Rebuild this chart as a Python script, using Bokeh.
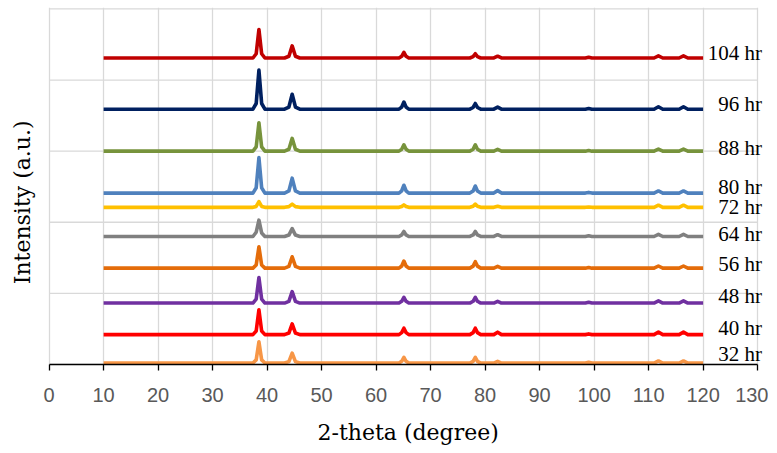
import math
from bokeh.plotting import figure
from bokeh.models import ColumnDataSource, LabelSet, Label, FixedTicker, Range1d, Title
from bokeh.embed import file_html
from bokeh.resources import INLINE

# ---- data ----
series_names = ["32 hr", "40 hr", "48 hr", "56 hr", "64 hr", "72 hr", "80 hr", "88 hr", "96 hr", "104 hr"]
series_colors = ["#F79646", "#FF0000", "#7030A0", "#E46C0A", "#808080",
                 "#FFC000", "#4F81BD", "#77933C", "#002060", "#C00000"]
offsets = [0.02, 0.42, 0.864, 1.355, 1.80, 2.21, 2.41, 3.0, 3.59, 4.31]
label_y = [0.145, 0.51, 0.97, 1.41, 1.84, 2.21, 2.49, 3.05, 3.665, 4.38]

two_theta = [10, 37.4, 38.0, 38.5, 39.0, 39.6, 43.2, 44.0, 44.6, 45.2, 46.0,
             64.2, 64.7, 65.1, 65.5, 66.0, 77.2, 77.8, 78.2, 78.6, 79.2,
             81.6, 82.3, 83.0, 98.4, 99.0, 99.6, 111.0, 111.8, 112.6,
             115.6, 116.4, 117.2, 120]

i_32 = [0, 0, 0.045, 0.30, 0.045, 0, 0, 0.02, 0.14, 0.02, 0, 0, 0.025, 0.08, 0.025, 0, 0, 0.025, 0.08, 0.025, 0, 0, 0.025, 0, 0, 0.01, 0, 0, 0.03, 0, 0, 0.03, 0, 0]
i_40 = [0, 0, 0.05, 0.35, 0.05, 0, 0, 0.022, 0.15, 0.022, 0, 0, 0.028, 0.09, 0.028, 0, 0, 0.028, 0.09, 0.028, 0, 0, 0.035, 0, 0, 0.01, 0, 0, 0.035, 0, 0, 0.035, 0, 0]
i_48 = [0, 0, 0.055, 0.36, 0.055, 0, 0, 0.024, 0.16, 0.024, 0, 0, 0.025, 0.08, 0.025, 0, 0, 0.025, 0.08, 0.025, 0, 0, 0.025, 0, 0, 0.01, 0, 0, 0.03, 0, 0, 0.03, 0, 0]
i_56 = [0, 0, 0.045, 0.30, 0.045, 0, 0, 0.024, 0.16, 0.024, 0, 0, 0.03, 0.10, 0.03, 0, 0, 0.028, 0.09, 0.028, 0, 0, 0.025, 0, 0, 0.01, 0, 0, 0.03, 0, 0, 0.03, 0, 0]
i_64 = [0, 0, 0.06, 0.23, 0.05, 0, 0, 0.02, 0.11, 0.02, 0, 0, 0.022, 0.07, 0.022, 0, 0, 0.022, 0.07, 0.022, 0, 0, 0.025, 0, 0, 0.01, 0, 0, 0.03, 0, 0, 0.03, 0, 0]
i_72 = [0, 0, 0.012, 0.08, 0.012, 0, 0, 0.01, 0.045, 0.01, 0, 0, 0.012, 0.035, 0.012, 0, 0, 0.015, 0.045, 0.015, 0, 0, 0.015, 0, 0, 0.005, 0, 0, 0.03, 0, 0, 0.03, 0, 0]
i_80 = [0, 0, 0.075, 0.50, 0.075, 0, 0, 0.03, 0.21, 0.03, 0, 0, 0.033, 0.11, 0.033, 0, 0, 0.03, 0.10, 0.03, 0, 0, 0.035, 0, 0, 0.01, 0, 0, 0.03, 0, 0, 0.03, 0, 0]
i_88 = [0, 0, 0.06, 0.40, 0.06, 0, 0, 0.027, 0.18, 0.027, 0, 0, 0.027, 0.09, 0.027, 0, 0, 0.027, 0.09, 0.027, 0, 0, 0.025, 0, 0, 0.01, 0, 0, 0.03, 0, 0, 0.03, 0, 0]
i_96 = [0, 0, 0.08, 0.55, 0.08, 0, 0, 0.03, 0.21, 0.03, 0, 0, 0.03, 0.10, 0.03, 0, 0, 0.024, 0.08, 0.024, 0, 0, 0.03, 0, 0, 0.01, 0, 0, 0.035, 0, 0, 0.035, 0, 0]
i_104 = [0, 0, 0.06, 0.40, 0.06, 0, 0, 0.025, 0.17, 0.025, 0, 0, 0.024, 0.08, 0.024, 0, 0, 0.02, 0.06, 0.02, 0, 0, 0.025, 0, 0, 0.01, 0, 0, 0.03, 0, 0, 0.03, 0, 0]
intensities = [i_32, i_40, i_48, i_56, i_64, i_72, i_80, i_88, i_96, i_104]

x_ticks = [0, 10, 20, 30, 40, 50, 60, 70, 80, 90, 100, 110, 120, 130]
y_grid = [0, 1, 2, 3, 4, 5]

# ---- figure ----
p = figure(frame_width=763, frame_height=357,
           x_range=Range1d(-8, 132), y_range=Range1d(0, 5.02),
           output_backend="svg", toolbar_location=None,
           min_border_left=5, min_border_right=0, min_border_top=7, min_border_bottom=0)
p.outline_line_color = None
p.background_fill_color = "white"
p.border_fill_color = "white"

# horizontal gridlines limited to the axis extent
p.ygrid.visible = False
n = len(y_grid)
p.segment(x0=[x_ticks[0]] * n, x1=[x_ticks[-1]] * n, y0=y_grid, y1=y_grid,
          line_color="#D9D9D9", line_width=1.3)

for name, color, off, vals in zip(series_names, series_colors, offsets, intensities):
    ys = [off + v for v in vals]
    p.line(two_theta, ys, line_color=color, line_width=3.6, line_join="round")

# axes
p.yaxis.visible = False
p.xgrid.grid_line_color = "#D9D9D9"
p.xgrid.grid_line_width = 1.3

xa = p.xaxis[0]
xa.ticker = FixedTicker(ticks=x_ticks)
xa.bounds = (0, 130)
xa.axis_line_color = "black"
xa.axis_line_width = 1.3
xa.major_tick_line_color = "black"
xa.major_tick_line_width = 1.3
xa.major_tick_out = 6
xa.major_tick_in = 0
xa.minor_tick_line_color = None
xa.major_label_text_font = "Liberation Sans"
xa.major_label_text_font_size = "20px"
xa.major_label_text_color = "#595959"
xa.major_label_standoff = 17

# x title, centred under the 0-130 axis span
p.add_layout(Title(text="2-theta (degree)", align="left", offset=312, standoff=27,
                   text_font="DejaVu Serif", text_font_size="22px",
                   text_font_style="normal", text_color="black"), "below")

# series labels on right
lab_src = ColumnDataSource(dict(x=[130.8] * len(series_names), y=label_y, text=series_names))
p.add_layout(LabelSet(x="x", y="y", text="text", source=lab_src,
                      text_align="right", text_baseline="middle",
                      text_font="DejaVu Serif", text_font_size="21px", text_color="black"))

# y title
p.add_layout(Label(x=-4.8, y=2.28, text="Intensity (a.u.)", angle=math.pi / 2,
                   text_align="center", text_baseline="middle",
                   text_font="DejaVu Serif", text_font_size="22px", text_color="black"))

open("out.html", "w").write(file_html(p, INLINE))
